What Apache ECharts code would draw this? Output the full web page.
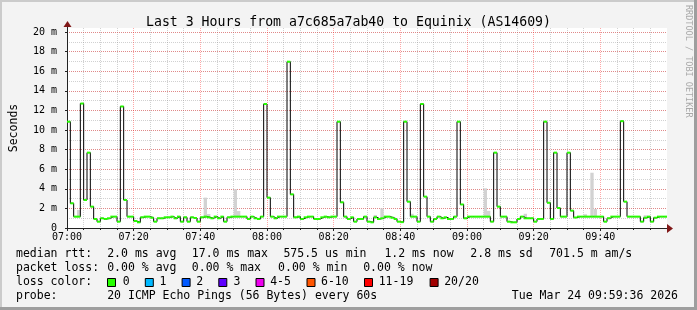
<!DOCTYPE html>
<html><head><meta charset="utf-8">
<script src="https://cdn.jsdelivr.net/npm/echarts@6/dist/echarts.min.js"></script>
<style>html,body{margin:0;padding:0;background:#f3f3f3}#c{width:697px;height:310px}</style>
</head><body><div id="c"></div>
<script>
// ---------- data ----------
const chartTitle = 'Last 3 Hours from a7c685a7ab40 to Equinix (AS14609)';
const xTickLabels = ['07:00','07:20','07:40','08:00','08:20','08:40','09:00','09:20','09:40'];
const yTickLabels = ['0','2 m','4 m','6 m','8 m','10 m','12 m','14 m','16 m','18 m','20 m'];
// median RTT per minute (ms), minute 0 = 07:00
const medianMs = [
  10.85, 2.52, 1.16, 1.16, 12.7, 2.86, 7.69, 2.18, 0.92, 0.65,
  0.99, 0.92, 0.99, 1.16, 1.16, 0.65, 12.4, 2.86, 1.16, 1.16,
  0.71, 0.58, 1.09, 1.16, 1.16, 1.05, 0.65, 0.99, 0.99, 1.09,
  1.09, 1.16, 0.99, 1.16, 0.65, 1.09, 0.65, 1.09, 1.02, 0.65,
  1.09, 1.16, 1.09, 0.99, 1.16, 0.99, 1.16, 0.65, 1.09, 1.16,
  1.16, 1.16, 1.16, 1.16, 0.92, 1.16, 0.99, 0.92, 1.16, 12.65,
  3.1, 1.16, 0.99, 1.16, 1.16, 1.16, 16.97, 3.43, 1.09, 1.16,
  0.92, 1.09, 1.16, 1.16, 0.92, 0.92, 1.09, 1.16, 1.09, 1.16,
  1.16, 10.85, 2.62, 1.16, 0.92, 1.09, 0.65, 0.92, 0.92, 1.16,
  0.65, 0.58, 1.09, 0.92, 0.99, 1.16, 1.16, 1.05, 0.92, 0.65,
  0.6, 10.85, 2.69, 1.16, 1.16, 0.65, 12.65, 3.2, 1.16, 0.65,
  0.92, 1.16, 0.99, 1.09, 0.92, 0.92, 1.16, 10.85, 2.4, 0.99,
  1.16, 1.16, 1.16, 1.16, 1.16, 1.16, 1.16, 0.65, 7.69, 2.18,
  1.16, 1.16, 0.65, 0.58, 0.58, 0.92, 1.16, 0.99, 0.99, 0.99,
  0.65, 0.92, 0.92, 10.85, 2.58, 0.92, 7.69, 2.04, 1.16, 1.16,
  7.69, 1.77, 1.07, 1.16, 1.16, 1.16, 1.16, 1.16, 1.16, 1.16,
  1.16, 0.65, 0.99, 1.16, 1.16, 1.16, 10.9, 2.69, 1.16, 1.16,
  1.16, 1.16, 0.65, 1.05, 1.16, 0.65, 1.05, 1.16, 1.16, 1.16
];
// visible smoke (ping spread): [minute, low ms, high ms]
const smoke = [
  [3, 1.16, 1.84], [41, 1.16, 3.1], [42, 1.09, 1.43], [50, 1.16, 3.95], [51, 1.16, 1.73],
  [92, 1.09, 1.33], [94, 0.99, 2.0], [103, 1.16, 1.45], [125, 1.16, 4.05], [126, 1.16, 1.75],
  [137, 0.99, 1.45], [155, 1.16, 1.4], [157, 1.16, 5.64], [158, 1.16, 1.94], [173, 1.05, 1.3]
];
const rttLabel = 'median rtt:';
const rttStats = ['2.0 ms avg', '17.0 ms max', '575.5 us min', '1.2 ms now', '2.8 ms sd', '701.5 m am/s'];
const lossLabel = 'packet loss:';
const lossStats = ['0.00 % avg', '0.00 % max', '0.00 % min', '0.00 % now'];
const lossColorLabel = 'loss color:';
const lossLabels = ['0', '1', '2', '3', '4-5', '6-10', '11-19', '20/20'];
const lossColors = ['#26ff00', '#00b8ff', '#0059ff', '#5e00ff', '#ee00ee', '#ff5500', '#ff0000', '#a10000'];
const probeLabel = 'probe:';
const probeText = '20 ICMP Echo Pings (56 Bytes) every 60s';
const dateText = 'Tue Mar 24 09:59:36 2026';
const watermark = 'RRDTOOL / TOBI OETIKER';

// ---------- layout ----------
const mono = '"DejaVu Sans Mono", monospace';
const Y_MAX = 20 * 200 / 196;
const rowY = [254.5, 268.5, 282.5, 296.5];
const rttX = [107.2, 191.8, 283.4, 384.4, 470.3, 549.2];
const lossX = [107.2, 191.8, 278.1, 363.2];
const boxX = [107, 144.8, 181.6, 218.3, 255.5, 306.5, 364, 429.6];
const boxLabelX = [122.7, 159.4, 196.2, 233.4, 270.2, 321, 378.7, 444.2];
const legendFont = 11.5;
const majorGrid = 'rgba(255,0,0,0.34)';
const minorGrid = 'rgba(140,140,140,0.4)';

function txt(t, x, y, align) {
  return { type: 'text', x: x, y: y, z: 50,
    style: { text: t, fontFamily: mono, fontSize: legendFont, fill: '#000',
             align: align || 'left', verticalAlign: 'middle' } };
}
const graphics = [];
// frame
graphics.push({ type: 'rect', z: 60, shape: { x: 0, y: 0, width: 697, height: 2 }, style: { fill: '#cbcbcb' } });
graphics.push({ type: 'rect', z: 60, shape: { x: 0, y: 0, width: 2, height: 310 }, style: { fill: '#cbcbcb' } });
graphics.push({ type: 'rect', z: 60, shape: { x: 0, y: 307, width: 697, height: 3 }, style: { fill: '#9e9e9e' } });
graphics.push({ type: 'rect', z: 60, shape: { x: 694, y: 0, width: 3, height: 310 }, style: { fill: '#9e9e9e' } });
// legend rows
graphics.push(txt(rttLabel, 16, rowY[0]));
rttStats.forEach((s, i) => graphics.push(txt(s, rttX[i], rowY[0])));
graphics.push(txt(lossLabel, 16, rowY[1]));
lossStats.forEach((s, i) => graphics.push(txt(s, lossX[i], rowY[1])));
graphics.push(txt(lossColorLabel, 16, rowY[2]));
lossLabels.forEach((s, i) => {
  graphics.push({ type: 'rect', z: 50, shape: { x: boxX[i] + 0.5, y: rowY[2] - 4, width: 8, height: 8 },
    style: { fill: lossColors[i], stroke: '#000', lineWidth: 1 } });
  graphics.push(txt(s, boxLabelX[i], rowY[2]));
});
graphics.push(txt(probeLabel, 16, rowY[3]));
graphics.push(txt(probeText, 107.2, rowY[3]));
graphics.push(txt(dateText, 678, rowY[3], 'right'));
// watermark
graphics.push({ type: 'text', x: 688, y: 5, rotation: -Math.PI / 2, z: 50,
  style: { text: watermark, fontFamily: mono, fontSize: 8.5, fill: '#a9a9a9', align: 'left', verticalAlign: 'middle' } });
// axis arrows
graphics.push({ type: 'polygon', z: 55, shape: { points: [[63.5, 27], [67.5, 21], [71.5, 27]] }, style: { fill: '#801818' } });
graphics.push({ type: 'polygon', z: 55, shape: { points: [[667, 224], [673, 228.5], [667, 233]] }, style: { fill: '#801818' } });
graphics.push({ type: 'rect', z: 54, shape: { x: 67, y: 26, width: 1, height: 3 }, style: { fill: '#222' } });

const lineData = medianMs.map((v, k) => [k, v]).concat([[medianMs.length, medianMs[medianMs.length - 1]]]);

const chart = echarts.init(document.getElementById('c'), null, { renderer: 'canvas', width: 697, height: 310 });
chart.setOption({
  animation: false,
  backgroundColor: '#f3f3f3',
  title: { text: chartTitle, left: 'center', top: 11,
    textStyle: { fontFamily: mono, fontSize: 13.2, fontWeight: 'normal', color: '#000' } },
  grid: { left: 67, right: 30, top: 28, bottom: 82, show: true, backgroundColor: '#ffffff', borderWidth: 0,
    containLabel: false, outerBoundsMode: 'none' },
  xAxis: {
    type: 'value', min: 0, max: 180, interval: 20,
    axisLine: { show: true, onZero: false, lineStyle: { color: '#222', width: 1 } },
    axisTick: { show: true, length: 3, lineStyle: { color: '#222' } },
    minorTick: { show: true, splitNumber: 4, length: 2, lineStyle: { color: '#222' } },
    axisLabel: { margin: 4, fontFamily: mono, fontSize: 10, color: '#000',
      formatter: v => (v % 20 === 0 && xTickLabels[v / 20]) ? xTickLabels[v / 20] : '' },
    splitLine: { show: true, showMinLine: false, showMaxLine: false,
      lineStyle: { color: majorGrid, type: [1, 1], width: 1 } },
    minorSplitLine: { show: true, lineStyle: { color: minorGrid, type: [1, 1], width: 1 } }
  },
  yAxis: [{
    type: 'value', min: 0, max: Y_MAX, interval: 2, z: 1,
    name: 'Seconds', nameLocation: 'middle', nameGap: 47, nameRotate: 90,
    nameTextStyle: { fontFamily: mono, fontSize: 11.5, color: '#000' },
    axisLine: { show: true, lineStyle: { color: '#222', width: 1 } },
    axisTick: { show: true, length: 2, lineStyle: { color: '#222' } },
    axisLabel: { margin: 10, fontFamily: mono, fontSize: 10, color: '#000', showMaxLabel: false,
      formatter: v => { const i = Math.round(v / 2); return (Math.abs(v - 2 * i) < 1e-6 && yTickLabels[i]) ? yTickLabels[i] : ''; } },
    splitLine: { show: true, showMinLine: false, showMaxLine: false,
      lineStyle: { color: majorGrid, type: [1, 1], width: 1 } }
  }, {
    type: 'value', min: 0, max: Y_MAX, interval: 1, z: 0, position: 'left',
    axisLine: { show: false }, axisTick: { show: false }, axisLabel: { show: false },
    splitLine: { show: true, showMinLine: false, showMaxLine: false,
      lineStyle: { color: minorGrid, type: [1, 1], width: 1 } }
  }],
  series: [{
    type: 'custom', name: 'smoke', z: 2, clip: true,
    data: smoke, encode: { x: 0, y: [1, 2] },
    renderItem: (params, api) => {
      const k = api.value(0), lo = api.value(1), hi = api.value(2);
      const a = api.coord([k, hi]), b = api.coord([k + 1, lo]);
      return { type: 'rect', shape: { x: a[0], y: a[1], width: b[0] - a[0], height: b[1] - a[1] },
        style: { fill: '#d2d2d2' } };
    }
  }, {
    type: 'line', name: 'median', z: 3, step: 'end', symbol: 'none', clip: true,
    data: lineData, lineStyle: { color: '#000', width: 1 }
  }, {
    type: 'custom', name: 'loss0', z: 4, clip: true,
    data: medianMs.map((v, k) => [k, v]), encode: { x: 0, y: 1 },
    renderItem: (params, api) => {
      const k = api.value(0), v = api.value(1);
      const a = api.coord([k, v]), b = api.coord([k + 1, v]);
      return { type: 'line', shape: { x1: a[0], y1: a[1], x2: b[0], y2: b[1] },
        style: { stroke: lossColors[0], lineWidth: 2 } };
    }
  }],
  graphic: graphics
});
</script></body></html>
